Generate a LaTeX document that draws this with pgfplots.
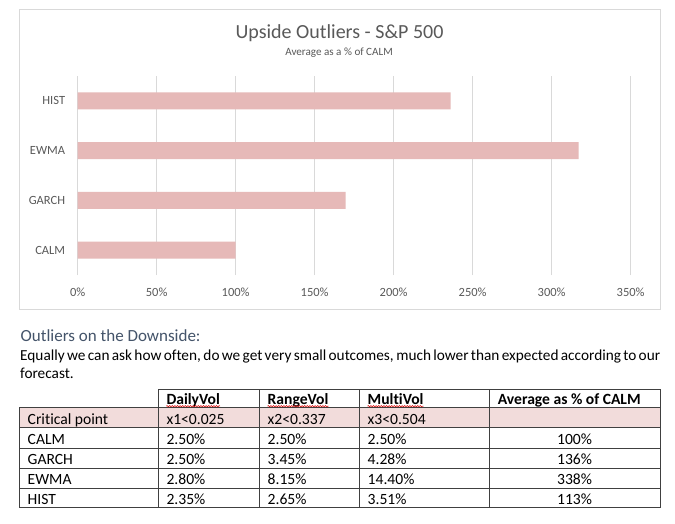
\documentclass[border=0pt]{standalone}
\usepackage{fontspec}
\setmainfont{Carlito}[Ligatures={NoCommon,NoContextual,NoRequired}]
\usepackage{pgfplots}
\pgfplotsset{compat=1.18}
\usetikzlibrary{decorations.pathmorphing}
\definecolor{barpink}{HTML}{E6B9B8}
\definecolor{rowpink}{HTML}{F2DCDB}
\definecolor{charttext}{HTML}{595959}
\definecolor{gridgray}{HTML}{D9D9D9}
\definecolor{headblue}{HTML}{44546A}
\definecolor{tline}{HTML}{404040}
\begin{document}
\begin{tikzpicture}[x=1pt,y=1pt]
\path[use as bounding box, fill=white] (0,0) rectangle (675,523);
% chart frame
\draw[gridgray, line width=0.8pt] (19.5,{523-9}) rectangle (660,{523-309.3});
\node[anchor=base, inner sep=0, text=charttext, font=\fontsize{20}{24}\selectfont] at (339.5,{523-38.3}) {Upside Outliers - S\&P 500};
\node[anchor=base, inner sep=0, text=charttext, font=\fontsize{11.1}{13}\selectfont] at (339,{523-55.7}) {Average as a \% of CALM};
\begin{axis}[
  at={(77.7pt,248pt)}, anchor=south west,
  width=553pt, height=199pt, scale only axis,
  xbar, bar width=17pt,
  xmin=0, xmax=350, ymin=-0.5, ymax=3.5,
  axis line style={draw=none},
  major tick length=0pt,
  xmajorgrids, grid style={gridgray, line width=0.8pt},
  xtick={0,50,...,350},
  xticklabel={\pgfmathprintnumber{\tick}\%},
  ytick={0,1,2,3},
  yticklabels={CALM,GARCH,EWMA,HIST},
  /pgf/number format/assume math mode=true,
  tick label style={text=charttext, font=\fontsize{12.5}{15}\selectfont, inner sep=0pt},
  xticklabel style={anchor=center, yshift=-17.7pt},
  yticklabel style={anchor=east, xshift=-12.4pt},
  clip=false,
]
\addplot[fill=barpink, draw=none] coordinates {(100,0) (169.5,1) (317,2) (236,3)};
\end{axis}
% heading and paragraph
\node[anchor=base west, inner sep=0, text=headblue, font=\fontsize{17}{20}\selectfont] at (20.5,{523-341.7}) {Outliers on the Downside:};
\node[anchor=base west, inner sep=0, text width=640pt, align=justify, font=\fontsize{15.3}{18.3}\selectfont] at (20,{523-360}) {\spaceskip=0.226em plus 0.3em minus 0.1em Equally we can ask how of\kern0pt ten, do we get very small outcomes, much lower than expected according to our\linebreak forecast.};
% table
\fill[rowpink] (19,{523-407.3}) rectangle (660,{523-427.7});
\begin{scope}[tline, line width=0.8pt]
\draw (158.3,{523-389.3}) -- (660,{523-389.3});
\foreach \yy in {407.3,427.7,448.3,468.3,488.3,507.7} {\draw (19,{523-\yy}) -- (660,{523-\yy});}
\draw (19,{523-407.3}) -- (19,{523-507.7});
\foreach \xx in {158.3,259.3,359.3,489.3,660} {\draw (\xx,{523-389.3}) -- (\xx,{523-507.7});}
\end{scope}
\begin{scope}[every node/.style={anchor=base west, inner sep=0, font=\fontsize{15.6}{18}\selectfont}]
\node[font=\fontsize{15.6}{18}\selectfont\bfseries] (h1) at (166.3,{523-404}) {DailyVol};
\node[font=\fontsize{15.6}{18}\selectfont\bfseries] (h2) at (267.5,{523-404}) {RangeVol};
\node[font=\fontsize{15.6}{18}\selectfont\bfseries] (h3) at (367.5,{523-404}) {Mul\kern0pt tiVol};
\node[font=\fontsize{15.6}{18}\selectfont\bfseries] at (497.7,{523-404}) {Average as \% of CALM};
\foreach \h in {h1,h2,h3} {\draw[red!85!black, line width=0.5pt, decorate, decoration={snake, amplitude=0.7pt, segment length=2.6pt}] ([yshift=-2.2pt]\h.base west) -- ([yshift=-2.2pt]\h.base east);}
\node at (27.5,{523-424}) {Cri\kern0pt tical point};
\node at (166.3,{523-424}) {x1<0.025};
\node at (267.5,{523-424}) {x2<0.337};
\node at (367.5,{523-424}) {x3<0.504};
\node at (27.5,{523-444.8}) {CALM};
\node at (166.3,{523-444.8}) {2.50\%};
\node at (267.5,{523-444.8}) {2.50\%};
\node at (367.5,{523-444.8}) {2.50\%};
\node[anchor=base] at (574.6,{523-444.8}) {100\%};
\node at (27.5,{523-464.8}) {GARCH};
\node at (166.3,{523-464.8}) {2.50\%};
\node at (267.5,{523-464.8}) {3.45\%};
\node at (367.5,{523-464.8}) {4.28\%};
\node[anchor=base] at (574.6,{523-464.8}) {136\%};
\node at (27.5,{523-484.8}) {EWMA};
\node at (166.3,{523-484.8}) {2.80\%};
\node at (267.5,{523-484.8}) {8.15\%};
\node at (367.5,{523-484.8}) {14.40\%};
\node[anchor=base] at (574.6,{523-484.8}) {338\%};
\node at (27.5,{523-504.2}) {HIST};
\node at (166.3,{523-504.2}) {2.35\%};
\node at (267.5,{523-504.2}) {2.65\%};
\node at (367.5,{523-504.2}) {3.51\%};
\node[anchor=base] at (574.6,{523-504.2}) {113\%};
\end{scope}
\end{tikzpicture}
\end{document}
